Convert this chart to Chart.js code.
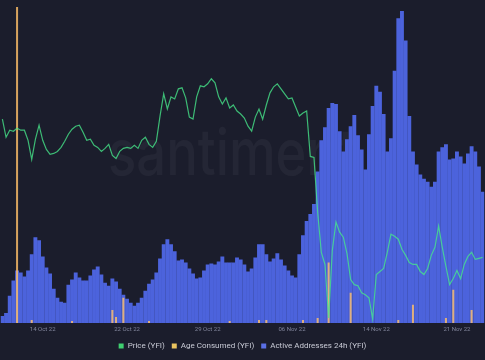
<!DOCTYPE html>
<html><head><meta charset="utf-8">
<script src="https://cdn.jsdelivr.net/npm/chart.js@4/dist/chart.umd.min.js"></script>
<style>html,body{margin:0;padding:0;background:#1b1d2c;overflow:hidden}#wrap{width:485px;height:360px}canvas{display:block}</style>
</head><body><div id="wrap"><canvas id="c" width="485" height="360"></canvas></div>
<script>
// Active Addresses 24h (YFI)
const activeAddresses = [7,10,27,42,52,50,46,52,68,85,82,66,55,49,34,25,21,20,38,43,
50,45,42,42,47,53,56,48,40,37,44,41,34,28,24,20,17,20,25,32,
39,43,50,64,78,83,78,71,62,63,60,54,49,44,45,52,58,59,58,61,
66,60,60,60,65,63,58,51,54,65,78,78,68,61,64,69,63,57,52,47,
45,68,87,101,108,118,150,181,194,213,218,217,190,170,182,195,206,186,172,152,
187,215,235,229,207,170,183,250,302,309,280,205,170,157,147,143,140,135,140,170,
174,177,162,163,170,165,158,168,175,170,155,130];
// Price (YFI), USD
const price = [8030,7760,7865,7850,7895,7865,7865,7715,7430,7730,7940,7715,7580,7505,7520,7550,7610,7700,7805,7880,
7925,7940,7835,7715,7730,7640,7610,7550,7595,7655,7490,7445,7550,7595,7610,7595,7640,7595,7715,7760,
7655,7610,7700,8075,8405,8180,8360,8330,8480,8495,8345,8060,8030,8360,8525,8510,8555,8630,8570,8360,
8255,8345,8195,8240,8150,8105,8045,7925,7850,8060,8180,8030,8240,8420,8510,8555,8480,8405,8330,8345,
8210,8075,8120,8150,7475,7460,6650,6050,5870,5075,6080,6500,6350,6275,6035,5645,5570,5555,5450,5420,
5375,5060,5720,5765,5810,6050,6320,6290,6245,6095,6005,5900,5870,5870,5765,5720,5810,6005,6125,6440,
6125,5840,5570,5660,5780,5660,5870,5990,6050,5945,5960,5975];
// Age Consumed (YFI)
const ageConsumed = [0,0,0,0,313000,0,0,0,3000,0,0,0,0,0,0,0,0,0,0,2000,
0,0,0,0,0,0,0,0,0,0,13000,6000,0,25000,0,0,0,0,0,0,
2000,0,0,0,0,0,0,0,0,0,0,0,0,0,0,0,0,0,0,0,
0,0,2000,0,0,0,0,0,0,0,3000,0,3000,0,0,0,0,0,0,0,
0,0,3000,0,0,0,5000,0,0,60000,0,0,0,0,0,30000,0,0,0,0,
0,0,0,0,0,0,0,0,3000,0,0,0,18000,0,0,0,0,0,0,0,
0,5000,0,33000,0,0,0,0,13000,0,0,0];
const tickLabels = ["14 Oct 22","22 Oct 22","29 Oct 22","06 Nov 22","14 Nov 22","21 Nov 22"];
const tickIndex = [11,34,56,79,102,124];

// categories: 8-hour steps starting 10 Oct 2022 08:00
const categories = [];
{
  const t0 = Date.UTC(2022,9,10,8);
  for (let i = 0; i < activeAddresses.length; i++) {
    const d = new Date(t0 + i*8*3600*1000);
    categories.push(d.toISOString().slice(0,13));
  }
}

const BG = '#1b1d2c';
const bgPlugin = { id:'bg', beforeDraw(chart){ const c=chart.ctx; c.save(); c.fillStyle=BG; c.fillRect(0,0,chart.width,chart.height); c.restore(); } };
const wmPlugin = { id:'wm', beforeDatasetsDraw(chart){
  const c=chart.ctx; c.save();
  c.font='500 64px Inter'; c.fillStyle='rgba(255,255,255,0.045)';
  const t='santiment'; const w=c.measureText(t).width;
  c.translate(108,175); c.scale(248/w,1); c.textBaseline='alphabetic'; c.fillText(t,0,0); c.restore(); } };

const legendColors = ['#3fd070','#e9c35f','#5a6fe6'];

new Chart(document.getElementById('c'), {
  data: {
    labels: categories,
    datasets: [
      { type:'line', label:'Price (YFI)', data: price, yAxisID:'yPrice', order:0,
        borderColor:'rgba(70,232,138,0.78)', backgroundColor:'rgba(70,232,138,0.78)', borderWidth:1.2,
        pointRadius:0, tension:0, fill:false },
      { type:'bar', label:'Age Consumed (YFI)', data: ageConsumed, yAxisID:'yAge', order:1, grouped:false,
        backgroundColor:'rgba(255,192,105,0.82)', barPercentage:0.55, categoryPercentage:1 },
      { type:'bar', label:'Active Addresses 24h (YFI)', data: activeAddresses, yAxisID:'yActive', order:2, grouped:false,
        backgroundColor:'rgb(76,99,220)', barPercentage:1.06, categoryPercentage:1 }
    ]
  },
  options: {
    responsive:false, animation:false, devicePixelRatio:1,
    layout:{ padding:0 },
    plugins:{
      tooltip:{enabled:false},
      legend:{ position:'bottom',
        labels:{ color:'#c9cbd6', font:{family:'Roboto', size:8}, boxWidth:5, boxHeight:5, padding:7,
          generateLabels(chart){
            const items = Chart.defaults.plugins.legend.labels.generateLabels(chart);
            items.forEach((it,i)=>{ it.fillStyle=legendColors[i]; it.strokeStyle=legendColors[i]; it.lineWidth=0; });
            return items;
          } } }
    },
    scales:{
      x:{ offset:true, grid:{display:false, drawTicks:false}, border:{display:false},
        ticks:{ autoSkip:false, maxRotation:0, color:'#80849a', font:{family:'Roboto', size:6}, padding:2.4,
          callback(v, i){ const k = tickIndex.indexOf(i); return k>=0 ? tickLabels[k] : ''; } } },
      yActive:{ display:false, min:0, max:320 },
      yPrice:{ display:false, min:5000, max:9800 },
      yAge:{ display:false, min:0, max:320000 }
    }
  },
  plugins:[bgPlugin, wmPlugin]
});
</script></body></html>
